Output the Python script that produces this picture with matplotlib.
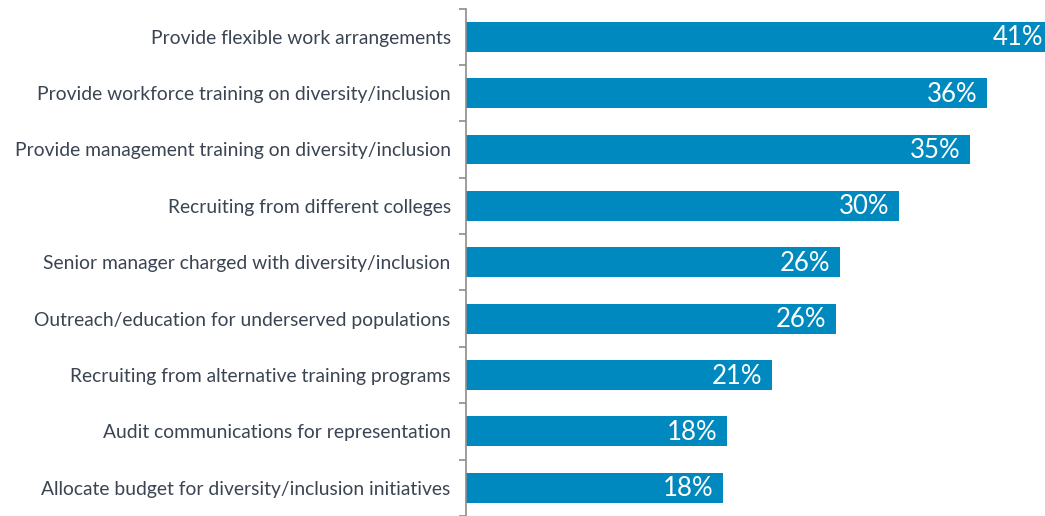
import matplotlib
matplotlib.use("Agg")
import matplotlib.pyplot as plt
import numpy as np

categories = [
    "Provide flexible work arrangements",
    "Provide workforce training on diversity/inclusion",
    "Provide management training on diversity/inclusion",
    "Recruiting from different colleges",
    "Senior manager charged with diversity/inclusion",
    "Outreach/education for underserved populations",
    "Recruiting from alternative training programs",
    "Audit communications for representation",
    "Allocate budget for diversity/inclusion initiatives",
]
values = [40.6, 36.05, 34.9, 30.0, 25.9, 25.6, 21.2, 18.06, 17.8]

bar_color = "#0089BF"
text_color = "#3B4452"
axis_color = "#8C8C8C"

plt.rcParams["font.family"] = ["Lato", "DejaVu Sans"]

fig = plt.figure(figsize=(10.45, 5.16), dpi=100)
ax = fig.add_axes([466 / 1045, 0.0, 1 - 466 / 1045, 1 - 8.5 / 516])

y = np.arange(len(categories))
bars = ax.barh(y, values, height=0.53, color=bar_color, zorder=2)
ax.set_ylim(len(categories) - 0.5, -0.5)
ax.set_xlim(0, 40.1)

for bar, v in zip(bars, values):
    ax.text(v - 0.65, bar.get_y() + bar.get_height() / 2 + 0.02, f"{v:.0f}%",
            ha="right", va="center", color="white", fontsize=18.5,
            clip_on=False, zorder=3)

ax.set_yticks(y)
ax.set_yticklabels(categories, fontsize=13.85, color=text_color)
ax.tick_params(axis="y", which="major", length=0, pad=11)
ax.set_yticks(np.arange(-0.5, len(categories) + 0.5, 1), minor=True)
ax.tick_params(axis="y", which="minor", length=5, width=1.2, color=axis_color, direction="out")
ax.set_xticks([])

for s in ["top", "right", "bottom"]:
    ax.spines[s].set_visible(False)
ax.spines["left"].set_color(axis_color)
ax.spines["left"].set_linewidth(1.2)

fig.savefig("out.png", dpi=100)
